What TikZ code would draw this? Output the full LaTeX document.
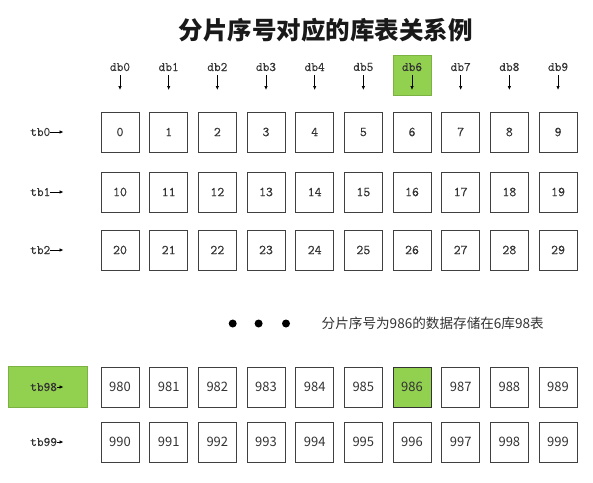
\documentclass[tikz,border=0pt]{standalone}
\usepackage{fontspec}
\newfontfamily\cjk{Noto Sans CJK SC}
\newfontfamily\mono{Latin Modern Mono}[FakeBold=0.3]
\usetikzlibrary{arrows.meta}
\definecolor{xlgreen}{HTML}{92D050}
\definecolor{boxline}{HTML}{404040}
\definecolor{txt}{HTML}{333333}
\tikzset{
  cell/.style={draw=boxline, line width=0.9pt, minimum width=38pt, minimum height=40pt, inner sep=0pt, text=txt},
  topnum/.style={font=\mono\fontsize{13.5}{13.5}\selectfont},
  botnum/.style={font=\cjk\fontsize{13}{13}\selectfont},
  lbl/.style={font=\mono\fontsize{13}{13}\selectfont, text=txt, inner sep=0pt},
  ptr/.style={-{Latex[length=4pt,width=3.5pt]}, line width=0.7pt, black},
  hl/.style={fill=xlgreen, draw=xlgreen!85!black, line width=0.4pt, minimum width=38pt, minimum height=40pt, inner sep=0pt},
}
\begin{document}
\begin{tikzpicture}[x=1pt,y=-1pt]
\useasboundingbox (0,0) rectangle (593,482);
% title
\node[font=\cjk\bfseries\fontsize{24.5}{24.5}\selectfont, text=black!90] (title) at (325.5,30) {分片序号对应的库表关系例};
% highlight behind db6
\node[hl] (hldb) at ({120+6*48.67},75) {};
% highlight behind tb98
\node[hl, minimum width=79pt, minimum height=41pt] (hltb) at (47.8,387) {};
% db labels and arrows
\foreach \i in {0,...,9}{
  \pgfmathsetmacro{\xx}{120+\i*48.67}
  \node[lbl] (db\i) at (\xx,67) {db\i};
  \coordinate (dbend\i) at (\xx,90);
  \draw[ptr] (\xx,75) coordinate (dbstart\i) -- (dbend\i);
}
% rows
\foreach \r/\y/\pre/\sty in {0/132//topnum,1/192/1/topnum,2/250/2/topnum,98/387/98/botnum,99/442/99/botnum}{
  \node[lbl, anchor=west] (tb\r) at (30,\y) {tb\r};
  \coordinate (tbend\r) at (63.5,\y);
  \draw[ptr] (tb\r.east) -- (tbend\r);
  \foreach \i in {0,...,9}{
    \pgfmathsetmacro{\xx}{120+\i*48.67}
    \node[cell,\sty] (c\r-\i) at (\xx,\y) {\pre\i};
  }
}
% highlighted cell 986
\node[cell, botnum, fill=xlgreen, draw=black!80] (hlcell) at ({120+6*48.67},387) {986};
% dots and note
\foreach \k/\xx in {1/232.7,2/258.6,3/286}{
  \fill (\xx,323.5) circle (4pt) coordinate (dot\k);
}
\node[font=\cjk\fontsize{13.6}{13.6}\selectfont, text=txt, anchor=west, inner sep=0pt] (note) at (321.5,323.5) {分片序号为986的数据存储在6库98表};
\end{tikzpicture}
\end{document}
